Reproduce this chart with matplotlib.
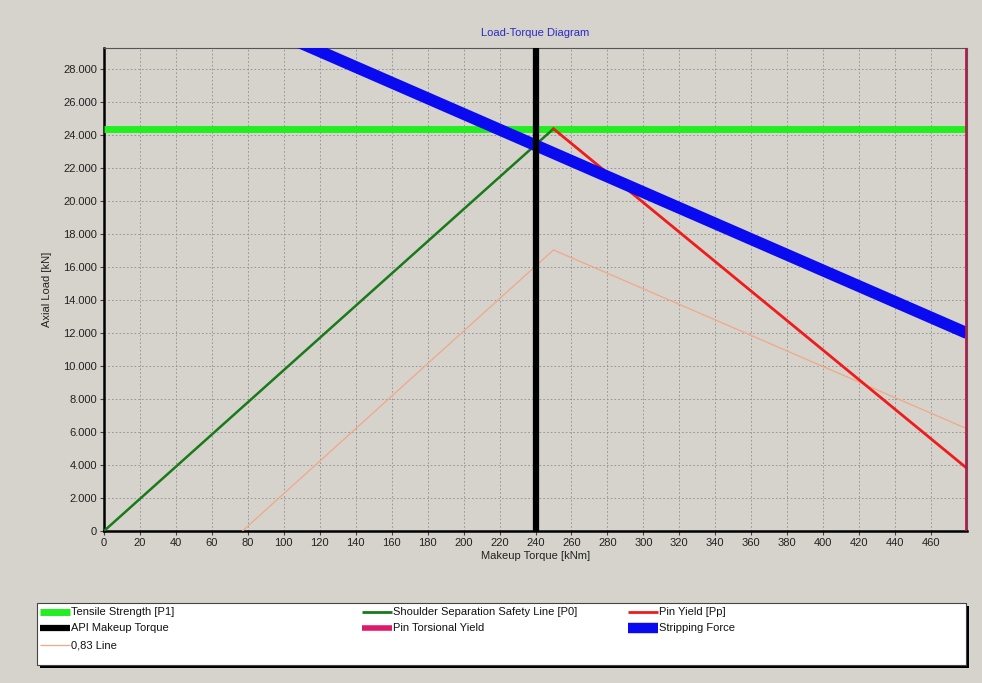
import matplotlib.pyplot as plt
from matplotlib.lines import Line2D
from matplotlib.patches import Rectangle
from matplotlib.ticker import FuncFormatter, MultipleLocator

plt.rcParams['font.family'] = ['Liberation Sans', 'DejaVu Sans']

# series data (makeup torque kNm, axial load kN)
tensile_x = [0, 480]
tensile_y = [24400, 24400]
shoulder_x = [0, 250]
shoulder_y = [0, 24400]
pin_yield_x = [250, 480]
pin_yield_y = [24400, 3800]
api_torque = 240
pin_torsional = 479.5
strip_x = [0, 480]
strip_y = [34800, 12000]
line83_x = [77, 250, 480]
line83_y = [0, 17050, 6200]

bg = '#d6d3cc'
fig = plt.figure(figsize=(9.82, 6.83), dpi=100, facecolor=bg)
ax = fig.add_axes([104/982, 1-531/683, (967-104)/982, (531-48)/683])
ax.set_facecolor(bg)

ax.plot(tensile_x, tensile_y, color='#22ee22', lw=5, solid_capstyle='butt', zorder=3)
ax.plot(shoulder_x, shoulder_y, color='#1a7a1a', lw=1.8, zorder=4)
ax.plot(pin_yield_x, pin_yield_y, color='#ee1c1c', lw=2, zorder=4)
ax.plot(line83_x, line83_y, color='#f0a888', lw=0.9, zorder=3)
ax.plot(strip_x, strip_y, color='#0a0af0', lw=8.5, solid_capstyle='butt', zorder=5)
ax.axvline(api_torque, color='black', lw=4.5, zorder=6)
ax.axvline(pin_torsional, color='#c8104e', lw=2, zorder=6)

ax.set_xlim(0, 480)
ax.set_ylim(0, 29300)
ax.yaxis.set_major_locator(MultipleLocator(2000))
ax.set_xticks(range(0, 461, 20))
ax.yaxis.set_major_formatter(FuncFormatter(
    lambda v, p: '0' if v == 0 else f'{int(v):,}'.replace(',', '.')))
ax.tick_params(labelsize=8, length=3, color='#444444', pad=2, labelcolor='#222222')
ax.grid(True, color='#8e8e8e', ls=(0, (2, 2.5)), lw=0.6)

for s in ['left', 'bottom']:
    ax.spines[s].set_linewidth(1.8)
    ax.spines[s].set_color('black')
for s in ['top', 'right']:
    ax.spines[s].set_linewidth(0.8)
    ax.spines[s].set_color('#555555')

ax.set_xlabel('Makeup Torque [kNm]', fontsize=8, labelpad=2, color='#222222')
ax.set_ylabel('Axial Load [kN]', fontsize=8, labelpad=8, color='#222222')
ax.set_title('Load-Torque Diagram', fontsize=8, color='#2a2ac8', pad=9)

# legend box with shadow
x0, y0, x1, y1 = 37/982, 1-665/683, 966/982, 1-603/683
fig.add_artist(Rectangle((x0+3/982, y0-3/683), x1-x0, y1-y0, transform=fig.transFigure,
                         facecolor='black', edgecolor='none'))
fig.add_artist(Rectangle((x0, y0), x1-x0, y1-y0, transform=fig.transFigure,
                         facecolor='white', edgecolor='#444444', lw=0.8))

entries = [
    ('Tensile Strength [P1]', '#22ee22', 5, 40, 612),
    ('Shoulder Separation Safety Line [P0]', '#1a7a1a', 2, 362, 612),
    ('Pin Yield [Pp]', '#ee1c1c', 2, 628, 612),
    ('API Makeup Torque', 'black', 4.5, 40, 628),
    ('Pin Torsional Yield', '#e0186a', 4, 362, 628),
    ('Stripping Force', '#0a0af0', 7.5, 628, 628),
    ('0,83 Line', '#f0a888', 0.9, 40, 645),
]
for label, color, lw, px, py in entries:
    yy = 1 - py/683
    fig.add_artist(Line2D([px/982, (px+30)/982], [yy, yy], transform=fig.transFigure,
                          color=color, lw=lw, solid_capstyle='butt'))
    fig.text((px+31)/982, yy, label, fontsize=8, va='center', ha='left', color='#111111')

fig.savefig('out.png', dpi=100, facecolor=bg)
